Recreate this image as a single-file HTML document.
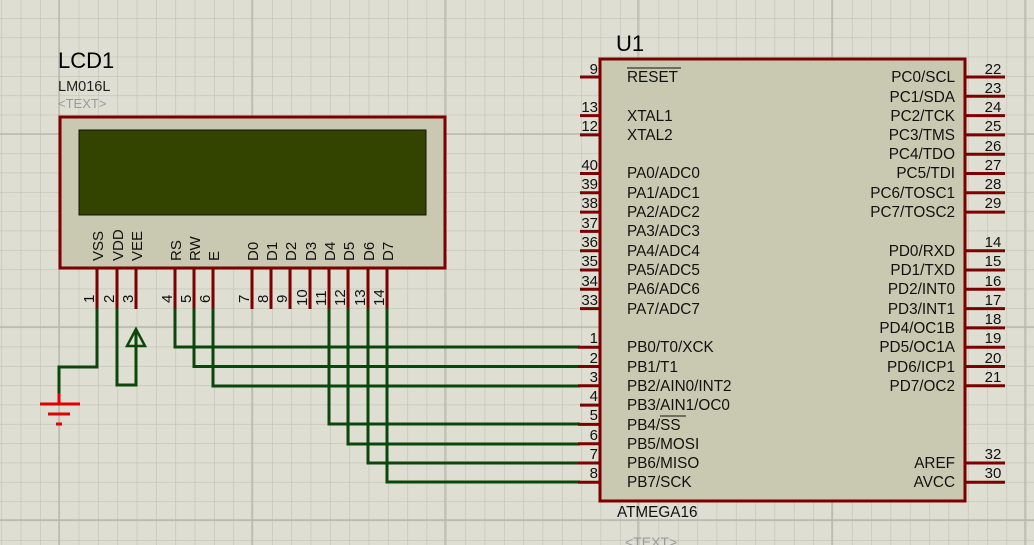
<!DOCTYPE html>
<html><head><meta charset="utf-8"><style>
html,body{margin:0;padding:0;background:#dedfd2;}
svg{display:block;font-family:"Liberation Sans",sans-serif;}
</style></head><body>
<svg width="1034" height="545" viewBox="0 0 1034 545" xmlns="http://www.w3.org/2000/svg">
<defs>
<pattern id="g" x="20.7" y="18" width="19.33" height="19.33" patternUnits="userSpaceOnUse">
<path d="M0 0V19.33M0 0H19.33" stroke="#c0c1b3" stroke-width="1.2" fill="none"/>
</pattern>
</defs>
<rect width="1034" height="545" fill="#dedfd2"/>
<rect width="1034" height="545" fill="url(#g)"/>
<g stroke="#b8b9ac" stroke-width="1.4">
<path d="M59 0V545M252 0V545M445 0V545M638 0V545M832 0V545M1025 0V545M0 134H1034M0 327H1034M0 520H1034"/>
</g>

<!-- LCD -->
<text x="58" y="68" font-size="22" fill="#000">LCD1</text>
<text x="58" y="91" font-size="14.5" fill="#222">LM016L</text>
<text x="58" y="108" font-size="13" fill="#9a9a9a">&lt;TEXT&gt;</text>
<rect x="60" y="117" width="385" height="151" fill="#c9c9b1" stroke="#7d0000" stroke-width="3"/>
<rect x="79" y="130" width="347" height="85" fill="#334400" stroke="#111" stroke-width="1"/>
<g font-size="15" fill="#111">
<text transform="translate(103,261) rotate(-90)">VSS</text>
<text transform="translate(123,261) rotate(-90)">VDD</text>
<text transform="translate(142,261) rotate(-90)">VEE</text>
<text transform="translate(181,261) rotate(-90)">RS</text>
<text transform="translate(200,261) rotate(-90)">RW</text>
<text transform="translate(219,261) rotate(-90)">E</text>
<text transform="translate(258,261) rotate(-90)">D0</text>
<text transform="translate(277,261) rotate(-90)">D1</text>
<text transform="translate(296,261) rotate(-90)">D2</text>
<text transform="translate(316,261) rotate(-90)">D3</text>
<text transform="translate(335,261) rotate(-90)">D4</text>
<text transform="translate(354,261) rotate(-90)">D5</text>
<text transform="translate(374,261) rotate(-90)">D6</text>
<text transform="translate(393,261) rotate(-90)">D7</text>
</g>
<g stroke="#7d0000" stroke-width="3">
<path d="M97 269V309M117 269V309M136 269V309M175 269V309M194 269V309M213 269V309M252 269V309M271 269V309M290 269V309M310 269V309M329 269V309M348 269V309M368 269V309M387 269V309"/>
</g>
<g font-size="15" fill="#111">
<text transform="translate(94,303) rotate(-90)">1</text>
<text transform="translate(114,303) rotate(-90)">2</text>
<text transform="translate(133,303) rotate(-90)">3</text>
<text transform="translate(172,303) rotate(-90)">4</text>
<text transform="translate(191,303) rotate(-90)">5</text>
<text transform="translate(210,303) rotate(-90)">6</text>
<text transform="translate(249,303) rotate(-90)">7</text>
<text transform="translate(268,303) rotate(-90)">8</text>
<text transform="translate(287,303) rotate(-90)">9</text>
<text transform="translate(307,306) rotate(-90)">10</text>
<text transform="translate(326,306) rotate(-90)">11</text>
<text transform="translate(345,306) rotate(-90)">12</text>
<text transform="translate(365,306) rotate(-90)">13</text>
<text transform="translate(384,306) rotate(-90)">14</text>
</g>

<!-- wires -->
<g stroke="#0b470b" stroke-width="3" fill="none">
<path d="M97 308V367H59V395"/>
<path d="M117 308V385H136V332"/>
<path d="M175 308V347H580"/>
<path d="M194 308V366.5H580"/>
<path d="M213 308V386H580"/>
<path d="M329 308V424H580"/>
<path d="M348 308V444H580"/>
<path d="M368 308V463H580"/>
<path d="M387 308V482H580"/>
<polygon points="136,329 127,346 145,346" stroke-width="2.5"/>
</g>
<!-- ground -->
<g stroke="#e00000" stroke-width="3">
<path d="M59 393V404M40 404H80M48 414H70M56 424H62"/>
</g>

<!-- MCU -->
<text x="616" y="51" font-size="22" fill="#000">U1</text>
<rect x="600" y="59" width="365" height="442" fill="#c9c9b1" stroke="#7d0000" stroke-width="3"/>
<g stroke="#7d0000" stroke-width="3">
<path d="M580 77H600M580 115.6H600M580 134.9H600M580 173.5H600M580 192.8H600M580 212.1H600M580 231.4H600M580 250.7H600M580 270H600M580 289.3H600M580 308.6H600M578 347.2H600M578 366.5H600M578 385.8H600M580 405.1H600M578 424.4H600M578 443.7H600M578 463H600M578 482.3H600"/>
<path d="M966 77H1005M966 96.3H1005M966 115.6H1005M966 134.9H1005M966 154.2H1005M966 173.5H1005M966 192.8H1005M966 212.1H1005M966 250.7H1005M966 270H1005M966 289.3H1005M966 308.6H1005M966 327.9H1005M966 347.2H1005M966 366.5H1005M966 385.8H1005M966 463H1005M966 482.3H1005"/>
</g>
<g font-size="15" fill="#111" text-anchor="end">
<text x="598" y="74">9</text>
<text x="598" y="112">13</text>
<text x="598" y="131">12</text>
<text x="598" y="170">40</text>
<text x="598" y="189">39</text>
<text x="598" y="208">38</text>
<text x="598" y="228">37</text>
<text x="598" y="247">36</text>
<text x="598" y="266">35</text>
<text x="598" y="286">34</text>
<text x="598" y="305">33</text>
<text x="598" y="343">1</text>
<text x="598" y="363">2</text>
<text x="598" y="382">3</text>
<text x="598" y="401">4</text>
<text x="598" y="420">5</text>
<text x="598" y="440">6</text>
<text x="598" y="459">7</text>
<text x="598" y="478">8</text>
</g>
<g font-size="15" fill="#111" text-anchor="middle">
<text x="993" y="74">22</text>
<text x="993" y="93">23</text>
<text x="993" y="112">24</text>
<text x="993" y="131">25</text>
<text x="993" y="151">26</text>
<text x="993" y="170">27</text>
<text x="993" y="189">28</text>
<text x="993" y="208">29</text>
<text x="993" y="247">14</text>
<text x="993" y="266">15</text>
<text x="993" y="286">16</text>
<text x="993" y="305">17</text>
<text x="993" y="324">18</text>
<text x="993" y="343">19</text>
<text x="993" y="363">20</text>
<text x="993" y="382">21</text>
<text x="993" y="459">32</text>
<text x="993" y="478">30</text>
</g>
<g font-size="15.3" fill="#111">
<text x="627" y="82">RESET</text>
<text x="627" y="121">XTAL1</text>
<text x="627" y="140">XTAL2</text>
<text x="627" y="178">PA0/ADC0</text>
<text x="627" y="198">PA1/ADC1</text>
<text x="627" y="217">PA2/ADC2</text>
<text x="627" y="236">PA3/ADC3</text>
<text x="627" y="256">PA4/ADC4</text>
<text x="627" y="275">PA5/ADC5</text>
<text x="627" y="294">PA6/ADC6</text>
<text x="627" y="314">PA7/ADC7</text>
<text x="627" y="352">PB0/T0/XCK</text>
<text x="627" y="372">PB1/T1</text>
<text x="627" y="391">PB2/AIN0/INT2</text>
<text x="627" y="410">PB3/AIN1/OC0</text>
<text x="627" y="430">PB4/SS</text>
<text x="627" y="449">PB5/MOSI</text>
<text x="627" y="468">PB6/MISO</text>
<text x="627" y="487">PB7/SCK</text>
</g>
<g stroke="#111" stroke-width="1"><path d="M627 68H681M660 416H686"/></g>
<g font-size="15.3" fill="#111" text-anchor="end">
<text x="955" y="82">PC0/SCL</text>
<text x="955" y="102">PC1/SDA</text>
<text x="955" y="121">PC2/TCK</text>
<text x="955" y="140">PC3/TMS</text>
<text x="955" y="159">PC4/TDO</text>
<text x="955" y="178">PC5/TDI</text>
<text x="955" y="198">PC6/TOSC1</text>
<text x="955" y="217">PC7/TOSC2</text>
<text x="955" y="256">PD0/RXD</text>
<text x="955" y="275">PD1/TXD</text>
<text x="955" y="294">PD2/INT0</text>
<text x="955" y="314">PD3/INT1</text>
<text x="955" y="333">PD4/OC1B</text>
<text x="955" y="352">PD5/OC1A</text>
<text x="955" y="372">PD6/ICP1</text>
<text x="955" y="391">PD7/OC2</text>
<text x="955" y="468">AREF</text>
<text x="955" y="487">AVCC</text>
</g>
<text x="617" y="517" font-size="15.3" fill="#111">ATMEGA16</text>
<text x="625" y="547" font-size="14" fill="#9a9a9a">&lt;TEXT&gt;</text>
</svg>
</body></html>
